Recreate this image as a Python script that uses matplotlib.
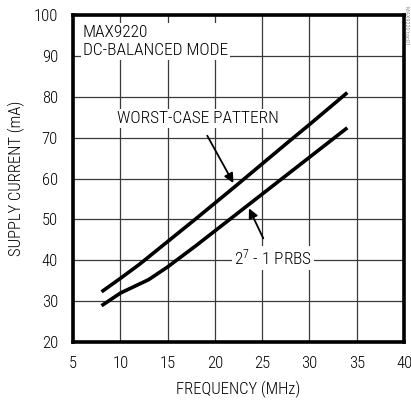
import matplotlib.pyplot as plt
from matplotlib import font_manager

# pick a narrow sans face, like the condensed Helvetica of the datasheet
names = {f.name for f in font_manager.fontManager.ttflist}
font = "Liberation Sans"
for cand in ["Liberation Sans Narrow", "Arial Narrow", "Roboto Condensed",
             "Archivo Narrow", "PT Sans Narrow", "Pragati Narrow"]:
    if cand in names:
        font = cand
        break
plt.rcParams["font.family"] = [font, "DejaVu Sans"]
plt.rcParams["font.weight"] = "light"
plt.rcParams["axes.labelweight"] = "light"
plt.rcParams["mathtext.fontset"] = "custom"
plt.rcParams["mathtext.rm"] = font + ":light"
plt.rcParams["mathtext.default"] = "rm"

# worst-case pattern curve
worst_f = [8, 10, 12, 15, 18, 20, 22, 25, 28, 30, 32, 34]
worst_i = [32.3, 35.6, 39.0, 44.6, 50.2, 54.0, 57.8, 63.6, 69.4, 73.2, 77.1, 81.0]

# 2^7 - 1 PRBS curve
prbs_f = [8, 10, 13, 15, 18, 20, 22, 25, 28, 30, 32, 34]
prbs_i = [28.9, 32.0, 35.3, 38.4, 43.6, 47.2, 50.8, 56.2, 61.6, 65.2, 68.8, 72.4]

xticks = [5, 10, 15, 20, 25, 30, 35, 40]
yticks = [20, 30, 40, 50, 60, 70, 80, 90, 100]

fig = plt.figure(figsize=(4.11, 4.03), dpi=100)
ax = fig.add_axes([0.178, 0.151, 0.805, 0.812])

ax.plot(worst_f, worst_i, color="black", lw=2.6, solid_capstyle="butt", zorder=3)
ax.plot(prbs_f, prbs_i, color="black", lw=2.6, solid_capstyle="butt", zorder=3)

ax.set_xlim(5, 40)
ax.set_ylim(20, 100)
ax.set_xticks(xticks)
ax.set_yticks(yticks)
ax.grid(True, color="#3a3a3a", lw=0.9)
ax.tick_params(length=0, labelsize=12)
ax.tick_params(axis="y", pad=11)
ax.tick_params(axis="x", pad=10)
for s in ax.spines.values():
    s.set_linewidth(2.6)

ax.set_xlabel("FREQUENCY (MHz)", fontsize=12, labelpad=7)
ax.set_ylabel("SUPPLY CURRENT (mA)", fontsize=12, labelpad=6)

box = dict(facecolor="white", edgecolor="none", pad=1.5)
ax.text(6.0, 97.6, "MAX9220\nDC-BALANCED MODE", fontsize=12.5, va="top", ha="left",
        linespacing=1.25, bbox=box, zorder=4)

ax.annotate("WORST-CASE PATTERN", xy=(21.95, 58.9), xytext=(18.2, 74.6),
            fontsize=12.5, ha="center", va="center", bbox=box, zorder=4,
            arrowprops=dict(arrowstyle="-|>", color="black", lw=1.3,
                            mutation_scale=14, shrinkA=6, shrinkB=0))
ax.annotate("2$^{7}$ - 1 PRBS", xy=(23.6, 52.7), xytext=(26.1, 40.6),
            fontsize=12.5, ha="center", va="center", bbox=box, zorder=4,
            arrowprops=dict(arrowstyle="-|>", color="black", lw=1.3,
                            mutation_scale=14, shrinkA=6, shrinkB=0))

fig.text(0.988, 0.985, "MAX9220 toc01", fontsize=4.5, rotation=270, color="#555555",
         ha="center", va="top")

fig.savefig("out.png", dpi=100)
